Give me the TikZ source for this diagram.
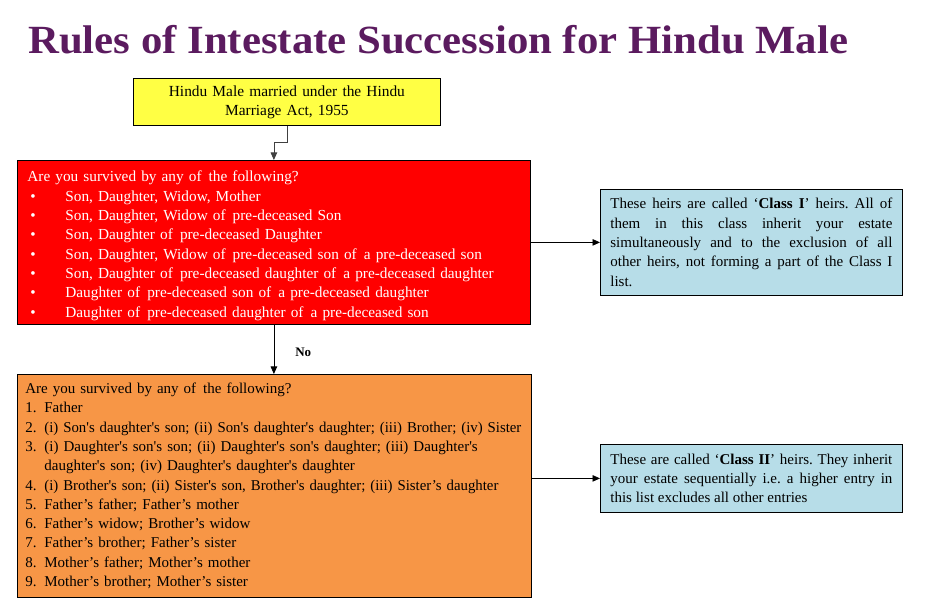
\documentclass[tikz,border=0pt]{standalone}
\usepackage{fontspec}
\setmainfont{Liberation Serif}
\usetikzlibrary{arrows.meta}
\definecolor{titlepurple}{HTML}{5B1B5F}
\definecolor{yellowfill}{HTML}{FFFF44}
\definecolor{redfill}{HTML}{FF0000}
\definecolor{orangefill}{HTML}{F79646}
\definecolor{bluefill}{HTML}{B7DDE8}
\newcommand{\bul}{\makebox[35pt][l]{\textbullet}}
\newcommand{\num}[1]{\makebox[19pt][l]{#1}}
\newcommand{\sq}{\textquotesingle}
\frenchspacing
\begin{document}
\begin{tikzpicture}[x=1pt,y=-1pt,
  box/.style={draw=black, line width=0.8pt, inner ysep=0pt, anchor=north west},
  conn/.style={line width=0.8pt, -{Triangle[length=7.5pt,width=6.5pt]}}
]
\useasboundingbox (0,0) rectangle (930,612);
\node[anchor=base west, inner sep=0, text=titlepurple,
  font=\fontsize{40}{40}\selectfont\bfseries] (title) at (28,54)
  {\resizebox{820pt}{\height}{Rules of Intestate Succession for Hindu Male}};
\node[box, fill=yellowfill, minimum width=307pt, minimum height=47pt,
  text width=291pt, inner xsep=8pt, align=center,
  font=\fontsize{15.4}{19}\selectfont] (yellow) at (133,78)
  {Hindu Male married under the Hindu\\Marriage Act, 1955};
\node[box, fill=redfill, text=white, minimum width=513pt, minimum height=164pt,
  text width=497pt, inner xsep=8pt, align=left,
  font=\fontsize{15.3}{19.3}\selectfont] (red) at (17,160)
  {\rule{0pt}{17.5pt}\hspace*{2pt}Are you survived by any of\hspace{2pt} the following?\\
   \hspace*{5pt}\bul Son, Daughter, Widow, Mother\\
   \hspace*{5pt}\bul Son, Daughter, Widow of\hspace{2pt} pre-deceased Son\\
   \hspace*{5pt}\bul Son, Daughter of\hspace{2pt} pre-deceased Daughter\\
   \hspace*{5pt}\bul Son, Daughter, Widow of\hspace{2pt} pre-deceased son of\hspace{2pt} a pre-deceased son\\
   \hspace*{5pt}\bul Son, Daughter of\hspace{2pt} pre-deceased daughter of\hspace{2pt} a pre-deceased daughter\\
   \hspace*{5pt}\bul Daughter of\hspace{2pt} pre-deceased son of\hspace{2pt} a pre-deceased daughter\\
   \hspace*{5pt}\bul Daughter of\hspace{2pt} pre-deceased daughter of\hspace{2pt} a pre-deceased son};
\node[box, fill=bluefill, minimum width=302pt, minimum height=106pt,
  text width=282pt, inner xsep=10pt, align=justify,
  font=\fontsize{15}{19.3}\selectfont] (blueone) at (600,189)
  {These heirs are called ‘\textbf{Class I}’ heirs. All of\linebreak
   them in this class inherit your estate\linebreak
   simultaneously and to the exclusion of all\linebreak
   other heirs, not forming a part of the Class I\linebreak
   list.};
\node[box, fill=orangefill, minimum width=514pt, minimum height=223pt,
  text width=498pt, inner xsep=8pt, align=left,
  font=\fontsize{15}{19.3}\selectfont] (orange) at (17,374)
  {Are you survived by any of\hspace{2pt} the following?\\
   \num{1.}Father\\
   \num{2.}\resizebox{477pt}{\height}{(i) Son\sq s daughter\sq s son; (ii) Son\sq s daughter\sq s daughter; (iii) Brother; (iv) Sister}\\
   \num{3.}(i) Daughter\sq s son\sq s son; (ii) Daughter\sq s son\sq s daughter; (iii) Daughter\sq s\\
   \num{}daughter\sq s son; (iv) Daughter\sq s daughter\sq s daughter\\
   \num{4.}\resizebox{454pt}{\height}{(i) Brother\sq s son; (ii) Sister\sq s son, Brother\sq s daughter; (iii) Sister’s daughter}\\
   \num{5.}Father’s father; Father’s mother\\
   \num{6.}Father’s widow; Brother’s widow\\
   \num{7.}Father’s brother; Father’s sister\\
   \num{8.}Mother’s father; Mother’s mother\\
   \num{9.}Mother’s brother; Mother’s sister};
\node[box, fill=bluefill, minimum width=302pt, minimum height=68pt,
  text width=282pt, inner xsep=10pt, align=justify,
  font=\fontsize{15}{19.3}\selectfont] (bluetwo) at (600,444)
  {These are called ‘\textbf{Class II}’ heirs. They inherit\linebreak
   your estate sequentially i.e. a higher entry in\linebreak
   this list excludes all other entries};
\draw[conn, draw=black!75] (yellow.south) -- ++(0,17) -| (red.north);
\draw[conn] (red.east) -- (blueone.west);
\draw[conn] (red.south) -- node[pos=0.56, right=21pt, inner sep=0pt,
  font=\fontsize{13}{13}\selectfont\bfseries] (no) {No} (red.south |- orange.north);
\draw[conn] (bluetwo.west -| orange.east) -- (bluetwo.west);
\end{tikzpicture}
\end{document}
